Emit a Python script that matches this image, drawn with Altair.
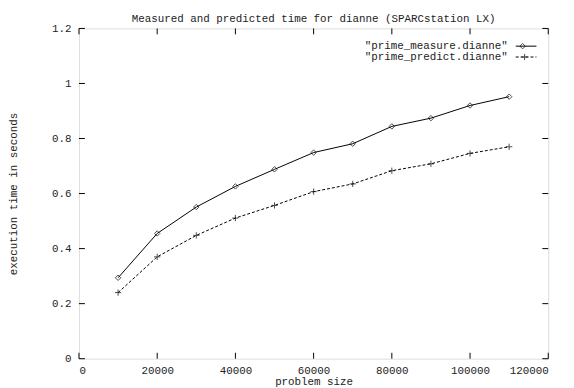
import altair as alt
import pandas as pd

sizes = [10000, 20000, 30000, 40000, 50000, 60000, 70000, 80000, 90000, 100000, 110000]
measured = [0.294, 0.455, 0.551, 0.626, 0.688, 0.749, 0.781, 0.844, 0.874, 0.920, 0.952]
predicted = [0.240, 0.370, 0.448, 0.511, 0.557, 0.607, 0.635, 0.683, 0.708, 0.746, 0.770]
series_names = ['"prime_measure.dianne"', '"prime_predict.dianne"']
x_ticks = [0, 20000, 40000, 60000, 80000, 100000, 120000]
y_ticks = [0, 0.2, 0.4, 0.6, 0.8, 1.0, 1.2]

W, H = 476, 335
FONT = "Liberation Mono"
TXT = "#222"

df_m = pd.DataFrame({"x": sizes, "y": measured})
df_p = pd.DataFrame({"x": sizes, "y": predicted})
df_xt = pd.DataFrame({"v": x_ticks})
df_yt = pd.DataFrame({"v": y_ticks})

xs = alt.Scale(domain=[0, 120000], nice=False, zero=False)
ys = alt.Scale(domain=[0, 1.2], nice=False, zero=False)

xax = alt.Axis(values=x_ticks, format="d", tickSize=0, domain=False, grid=False,
               labelFont=FONT, labelFontSize=11, labelColor=TXT, labelPadding=6,
               title="problem size", titleFont=FONT, titleFontSize=11, titleFontWeight="normal",
               titleColor=TXT, titlePadding=0)
yax = alt.Axis(values=y_ticks, tickSize=0, domain=False, grid=False,
               labelExpr="datum.value == 0 ? '0' : format(datum.value, '.1~f')",
               labelFont=FONT, labelFontSize=11, labelColor=TXT, labelPadding=8,
               title="execution time in seconds", titleFont=FONT, titleFontSize=11,
               titleFontWeight="normal", titleColor=TXT, titlePadding=34)

m_line = alt.Chart(df_m).mark_line(color="black", strokeWidth=1).encode(
    x=alt.X("x:Q", scale=xs, axis=xax), y=alt.Y("y:Q", scale=ys, axis=yax))
m_pts = alt.Chart(df_m).mark_point(shape="diamond", filled=False, color="black", size=30, strokeWidth=1).encode(
    x=alt.X("x:Q", scale=xs), y=alt.Y("y:Q", scale=ys))
p_line = alt.Chart(df_p).mark_line(color="black", strokeWidth=1, strokeDash=[3, 2]).encode(
    x=alt.X("x:Q", scale=xs), y=alt.Y("y:Q", scale=ys))
plus = "M-1,0L1,0M0,-1L0,1"
p_pts = alt.Chart(df_p).mark_point(shape=plus, filled=False, color="black", size=40, strokeWidth=1).encode(
    x=alt.X("x:Q", scale=xs), y=alt.Y("y:Q", scale=ys))

tb = alt.Chart(df_xt).mark_rule(color="black", strokeWidth=1).encode(
    x=alt.X("v:Q", scale=xs), y=alt.value(H), y2=alt.value(H - 6))
tt = alt.Chart(df_xt).mark_rule(color="black", strokeWidth=1).encode(
    x=alt.X("v:Q", scale=xs), y=alt.value(0), y2=alt.value(6))
tl = alt.Chart(df_yt).mark_rule(color="black", strokeWidth=1).encode(
    y=alt.Y("v:Q", scale=ys), x=alt.value(0), x2=alt.value(6))
tr = alt.Chart(df_yt).mark_rule(color="black", strokeWidth=1).encode(
    y=alt.Y("v:Q", scale=ys), x=alt.value(W), x2=alt.value(W - 6))

df_leg = pd.DataFrame({"name": series_names})
LY1, LY2 = 18, 29
TX = 435
leg_m_text = alt.Chart(df_leg).transform_filter(alt.datum.name == series_names[0]).mark_text(
    align="right", baseline="middle", font=FONT, fontSize=11, color=TXT).encode(
    text="name:N", x=alt.value(TX), y=alt.value(LY1))
leg_p_text = alt.Chart(df_leg).transform_filter(alt.datum.name == series_names[1]).mark_text(
    align="right", baseline="middle", font=FONT, fontSize=11, color=TXT).encode(
    text="name:N", x=alt.value(TX), y=alt.value(LY2))
leg_m_line = alt.Chart(df_leg).transform_filter(alt.datum.name == series_names[0]).mark_rule(
    color="black", strokeWidth=1).encode(x=alt.value(443), x2=alt.value(464), y=alt.value(LY1))
leg_p_line = alt.Chart(df_leg).transform_filter(alt.datum.name == series_names[1]).mark_rule(
    color="black", strokeWidth=1, strokeDash=[3, 2]).encode(x=alt.value(443), x2=alt.value(464), y=alt.value(LY2))
leg_m_pt = alt.Chart(df_leg).transform_filter(alt.datum.name == series_names[0]).mark_point(
    shape="diamond", filled=False, color="black", size=30, strokeWidth=1).encode(x=alt.value(450), y=alt.value(LY1))
leg_p_pt = alt.Chart(df_leg).transform_filter(alt.datum.name == series_names[1]).mark_point(
    shape=plus, filled=False, color="black", size=40, strokeWidth=1).encode(x=alt.value(452), y=alt.value(LY2))

chart = alt.layer(
    m_line, p_line, m_pts, p_pts, tb, tt, tl, tr,
    leg_m_text, leg_p_text, leg_m_line, leg_p_line, leg_m_pt, leg_p_pt
).properties(
    width=W, height=H,
    title=alt.TitleParams("Measured and predicted time for dianne (SPARCstation LX)",
                          font=FONT, fontSize=11, fontWeight="normal", color=TXT, offset=-1),
    autosize=alt.AutoSizeParams(type="none"),
    padding={"left": 72, "top": 18, "right": 18, "bottom": 26},
).configure_view(stroke="black", strokeWidth=1.5).configure(background="white")

chart.save("out.html", embed_options={"renderer": "svg", "actions": False})
